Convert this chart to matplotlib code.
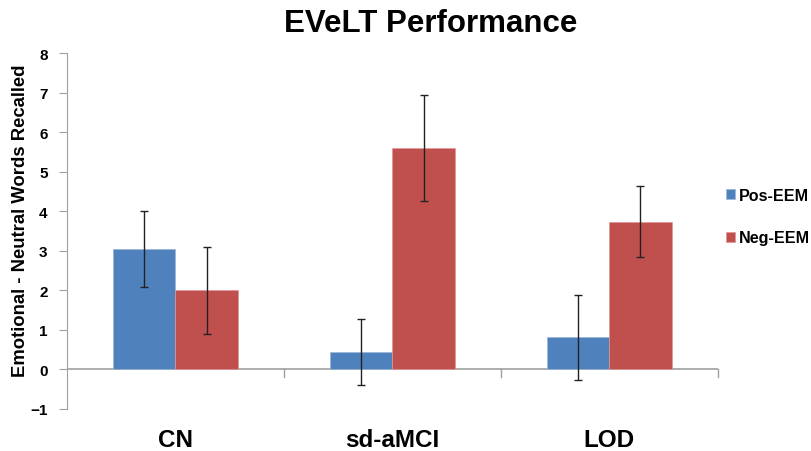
import matplotlib
matplotlib.use("Agg")
import matplotlib.pyplot as plt
import numpy as np

plt.rcParams['font.family'] = ['Liberation Sans', 'DejaVu Sans']

groups = ['CN', 'sd-aMCI', 'LOD']
series = ['Pos-EEM', 'Neg-EEM']
pos_vals = [3.05, 0.44, 0.81]
neg_vals = [2.0, 5.6, 3.73]
pos_err = [0.96, 0.83, 1.08]
neg_err = [1.1, 1.35, 0.9]
colors = ['#4F81BD', '#C0504D']

fig = plt.figure(figsize=(8.12, 4.52), dpi=100)
ax = fig.add_axes([0.0825, 0.093, 0.8015, 0.7875])

x = np.arange(len(groups))
w = 0.287
err_kw = dict(ecolor='#222222', elinewidth=1.0, capsize=3, capthick=1.0)
ax.bar(x - w / 2, pos_vals, w, yerr=pos_err, color=colors[0], label=series[0],
       edgecolor='#9DB6D8', linewidth=0.5, error_kw=err_kw)
ax.bar(x + w / 2, neg_vals, w, yerr=neg_err, color=colors[1], label=series[1],
       edgecolor='#E09795', linewidth=0.5, error_kw=err_kw)

ax.set_xlim(-0.5, len(groups) - 0.5)
ax.set_ylim(-1, 8)
ax.set_yticks(range(-1, 9))
ax.tick_params(axis='y', length=6, color='#A0A0A0', labelsize=11, pad=8)
for lab in ax.get_yticklabels():
    lab.set_fontweight('bold')

ax.set_xticks([])
for spine in ['top', 'right', 'bottom']:
    ax.spines[spine].set_visible(False)
ax.spines['left'].set_color('#A0A0A0')
ax.axhline(0, color='#A0A0A0', linewidth=1.2, zorder=0.5)
# category boundary ticks pointing down from the zero line
for b in np.arange(0.5, len(groups), 1.0):
    ax.plot([b, b], [0, -0.18], color='#A0A0A0', linewidth=1, clip_on=False)

for i, g in enumerate(groups):
    ax.text(i, -1.93, g, ha='center', va='baseline', fontsize=17.5, fontweight='bold')

fig.text(0.025, 0.511, 'Emotional - Neutral Words Recalled', rotation=90,
         ha='center', va='center', fontsize=13.3, fontweight='bold')
fig.text(0.531, 0.948, 'EVeLT Performance', ha='center', va='center', fontsize=22.5, fontweight='bold')

ax.legend(loc='center left', bbox_to_anchor=(0.99, 0.54), frameon=False,
          prop={'weight': 'bold', 'size': 11.6}, handlelength=0.6, handleheight=0.6,
          handletextpad=0.2, labelspacing=1.7)

fig.savefig('out.png', dpi=100)
